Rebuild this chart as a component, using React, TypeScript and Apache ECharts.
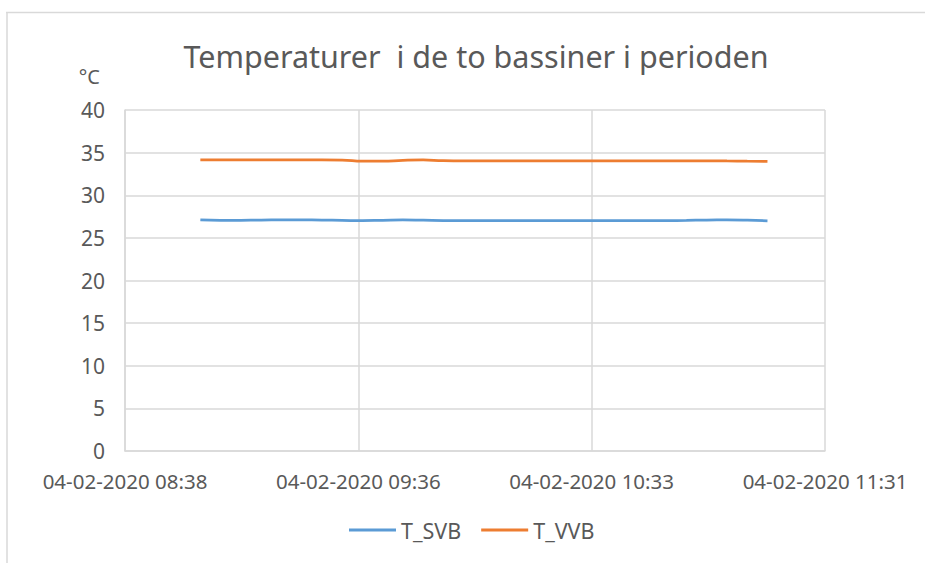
import React, { useEffect, useRef } from "react";
import * as echarts from "echarts";

const TITLE = "Temperaturer  i de to bassiner i perioden";
const DATE_PREFIX = "04-02-2020";
const Y_UNIT = "°C";

const times = [
  "08:57", "09:02", "09:07", "09:12", "09:17", "09:22", "09:27", "09:32", "09:37", "09:42",
  "09:47", "09:52", "09:57", "10:02", "10:07", "10:12", "10:17", "10:22", "10:27", "10:32",
  "10:37", "10:42", "10:47", "10:52", "10:57", "11:02", "11:07", "11:12", "11:17",
];
const tSVB = [
  27.1, 27.05, 27.06, 27.09, 27.1, 27.1, 27.09, 27.06, 27.02, 27.06,
  27.1, 27.07, 27.03, 27.02, 27.02, 27.02, 27.02, 27.02, 27.02, 27.02,
  27.02, 27.02, 27.02, 27.03, 27.05, 27.09, 27.1, 27.07, 27.0,
];
const tVVB = [
  34.15, 34.15, 34.15, 34.15, 34.15, 34.15, 34.15, 34.13, 34.0, 33.99,
  34.1, 34.15, 34.05, 34.03, 34.03, 34.03, 34.03, 34.03, 34.03, 34.03,
  34.03, 34.03, 34.03, 34.03, 34.03, 34.03, 34.02, 34.01, 33.98,
];

const toMin = (s: string) => {
  const [h, m] = s.split(":").map(Number);
  return h * 60 + m;
};
const pad = (n: number) => (n < 10 ? "0" + n : "" + n);
const fmt = (v: number) => {
  const t = Math.floor(v + 1e-6);
  return `${DATE_PREFIX} ${pad(Math.floor(t / 60))}:${pad(t % 60)}`;
};

const TEXT = "#595959";
const GRID = "#D9D9D9";
const FONT = "Noto Sans";

export default function App() {
  const ref = useRef<HTMLDivElement>(null);
  useEffect(() => {
    if (!ref.current) return;
    const chart = echarts.init(ref.current, null, { renderer: "svg" });
    chart.setOption({
      animation: false,
      backgroundColor: "#fff",
      textStyle: { fontFamily: FONT },
      title: {
        text: TITLE,
        left: 471,
        textAlign: "center",
        top: 35,
        textStyle: { color: TEXT, fontSize: 30.5, fontWeight: "normal", fontFamily: FONT },
      },
      graphic: [
        { type: "line", shape: { x1: 6, y1: 12.5, x2: 925, y2: 12.5 }, style: { stroke: GRID, lineWidth: 1.5 } },
        { type: "line", shape: { x1: 7, y1: 12, x2: 7, y2: 563 }, style: { stroke: GRID, lineWidth: 1.5 } },
      ],
      legend: {
        bottom: 17,
        left: 344,
        icon: "rect",
        itemWidth: 47,
        itemHeight: 3,
        itemGap: 20,
        textStyle: { color: TEXT, fontSize: 21.5, fontFamily: FONT },
        data: ["T_SVB", "T_VVB"],
      },
      grid: { left: 125, right: 100, top: 110, bottom: 112 },
      xAxis: {
        type: "value",
        min: 518.4,
        max: 691.2,
        interval: 57.6,
        axisLine: { show: true, lineStyle: { color: GRID, width: 1.5 } },
        axisTick: { show: false },
        splitLine: { show: true, lineStyle: { color: GRID, width: 1.5 } },
        axisLabel: {
          color: TEXT,
          fontSize: 20.5,
          margin: 19,
          fontFamily: FONT,
          showMinLabel: true,
          showMaxLabel: true,
          formatter: (v: number) => fmt(v),
        },
      },
      yAxis: {
        type: "value",
        min: 0,
        max: 40,
        interval: 5,
        name: Y_UNIT,
        nameLocation: "end",
        nameGap: 34,
        nameTextStyle: {
          color: TEXT,
          fontSize: 20,
          align: "right",
          verticalAlign: "middle",
          padding: [0, 25, 0, 0],
          fontFamily: FONT,
        },
        axisLine: { show: true, lineStyle: { color: GRID, width: 1.5 } },
        axisTick: { show: false },
        splitLine: { show: true, lineStyle: { color: GRID, width: 1.5 } },
        axisLabel: { color: TEXT, fontSize: 21, margin: 20, fontFamily: FONT },
      },
      series: [
        {
          name: "T_SVB",
          type: "line",
          smooth: true,
          showSymbol: false,
          symbol: "none",
          lineStyle: { color: "#5B9BD5", width: 2.75 },
          itemStyle: { color: "#5B9BD5" },
          data: times.map((t, i) => [toMin(t), tSVB[i]]),
        },
        {
          name: "T_VVB",
          type: "line",
          smooth: true,
          showSymbol: false,
          symbol: "none",
          lineStyle: { color: "#ED7D31", width: 2.75 },
          itemStyle: { color: "#ED7D31" },
          data: times.map((t, i) => [toMin(t), tVVB[i]]),
        },
      ],
    });
    return () => chart.dispose();
  }, []);
  return (
    <div
      ref={ref}
      style={{ position: "fixed", left: 0, top: 0, width: 925, height: 563 }}
    />
  );
}
